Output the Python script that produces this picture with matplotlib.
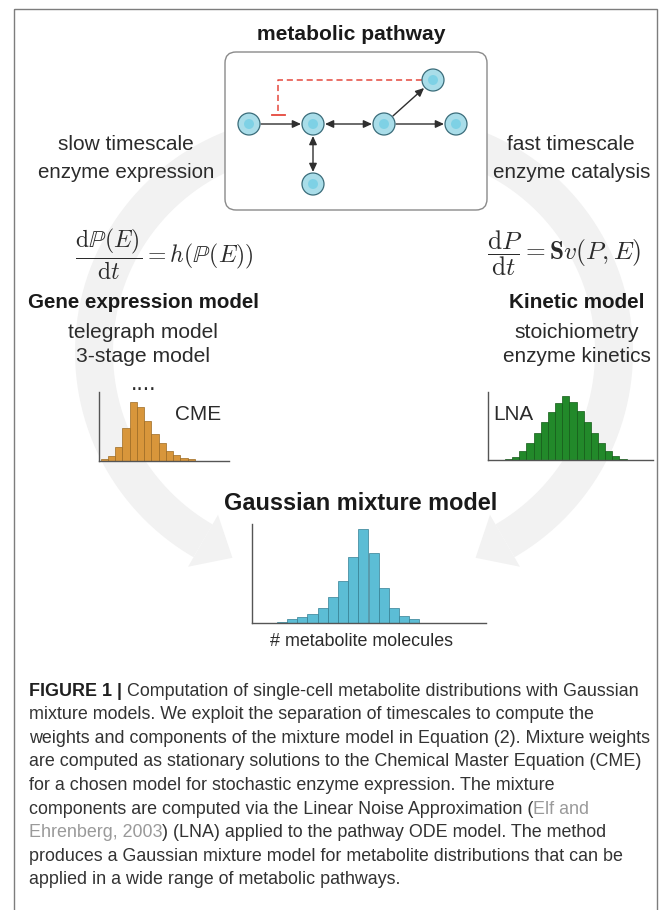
import numpy as np
import matplotlib
matplotlib.use('Agg')
import matplotlib.pyplot as plt
from matplotlib.patches import Circle, FancyBboxPatch, FancyArrowPatch, Polygon, Rectangle

W, H = 669, 910
plt.rcParams['font.family'] = ['Liberation Sans', 'DejaVu Sans']
plt.rcParams['mathtext.fontset'] = 'cm'

# histogram bar heights (arbitrary units)
cme_counts = [5, 14, 42, 97, 175, 162, 119, 79, 52, 30, 17, 9, 5]
lna_counts = [3, 10, 26, 50, 80, 113, 145, 172, 193, 173, 146, 114, 82, 52, 28, 12, 4]
gmm_counts = [2, 12, 18, 26, 43, 76, 125, 198, 280, 210, 103, 43, 20, 10]

# pathway graph
node_names = ['A', 'B', 'C', 'D', 'E', 'F']
node_x = [249, 313, 384, 456, 433, 313]
node_y = [124, 124, 124, 124, 80, 184]
edges = [('A', 'B', '-|>'), ('B', 'C', '<|-|>'), ('C', 'D', '-|>'),
         ('C', 'E', '-|>'), ('B', 'F', '<|-|>')]
NODE_R = 11

caption = [
    [('FIGURE 1 |', 'b'), (' Computation of single-cell metabolite distributions with Gaussian', 'n')],
    [('mixture models. We exploit the separation of timescales to compute the', 'n')],
    [('weights and components of the mixture model in Equation (2). Mixture weights', 'n')],
    [('are computed as stationary solutions to the Chemical Master Equation (CME)', 'n')],
    [('for a chosen model for stochastic enzyme expression. The mixture', 'n')],
    [('components are computed via the Linear Noise Approximation (', 'n'), ('Elf and', 'g')],
    [('Ehrenberg, 2003', 'g'), (') (LNA) applied to the pathway ODE model. The method', 'n')],
    [('produces a Gaussian mixture model for metabolite distributions that can be', 'n')],
    [('applied in a wide range of metabolic pathways.', 'n')],
]

fig = plt.figure(figsize=(W / 100, H / 100), dpi=100)
ax = fig.add_axes([0, 0, 1, 1])
ax.set_xlim(0, W)
ax.set_ylim(H, 0)
ax.axis('off')
renderer = fig.canvas.get_renderer()

TXT = '#2b2b2b'


def label(x, y, s, width, bold=False, color=TXT):
    t = ax.text(x, y, s, ha='center', va='center', fontsize=10, color=color,
                fontweight='bold' if bold else 'normal', zorder=5)
    w = t.get_window_extent(renderer).width
    t.set_fontsize(10 * width / w)
    return t


# faint circular arrows in the background
ring_col = '#f2f2f2'
ring_r, ring_cy, ring_w = 218, 352, 38
for cx, t0, t1, sgn in [(312, 100, 240, 1), (396, 80, -60, -1)]:
    th = np.radians(np.linspace(t0, t1, 200))
    xs = cx + ring_r * np.cos(th)
    ys = ring_cy - ring_r * np.sin(th)
    ax.plot(xs, ys, color=ring_col, lw=ring_w * 0.72, solid_capstyle='butt', zorder=0)
    d = sgn * np.array([-np.sin(th[-1]), -np.cos(th[-1])])
    n = np.array([-d[1], d[0]])
    e = np.array([xs[-1], ys[-1]])
    ax.add_patch(Polygon([e + n * 30, e - n * 30, e + d * 34], closed=True,
                         fc=ring_col, ec='none', zorder=0))

# outer frame
ax.add_patch(Rectangle((14, 9), 643, 910, fill=False, ec='#7d7d7d', lw=1, zorder=1))

# pathway box
ax.add_patch(FancyBboxPatch((225, 52), 262, 158, boxstyle='round,pad=0,rounding_size=11',
                            fc='white', ec='#8a8a8a', lw=1, zorder=2))
label(351.5, 35, 'metabolic pathway', 187, bold=True, color='#1a1a1a')

pos = {k: np.array([x, y], float) for k, x, y in zip(node_names, node_x, node_y)}
for a, b, style in edges:
    v = pos[b] - pos[a]
    u = v / np.linalg.norm(v)
    p0 = pos[a] + u * (NODE_R + 1)
    p1 = pos[b] - u * (NODE_R + 1)
    ax.add_patch(FancyArrowPatch(tuple(p0), tuple(p1),
                                 arrowstyle=style + ',head_length=5,head_width=2.3',
                                 mutation_scale=1, shrinkA=0, shrinkB=0,
                                 color='#2f2f2f', lw=1.0, zorder=3))
for k in node_names:
    ax.add_patch(Circle(pos[k], NODE_R, fc='#a9dde9', ec='#3a6c7a', lw=0.9, zorder=4))
    ax.add_patch(Circle(pos[k], 5, fc='#74cfe4', ec='none', alpha=0.8, zorder=4))

# feedback inhibition (red dashed)
ax.plot([422, 278, 278], [80, 80, 114], color='#e5483d', lw=1.1, ls=(0, (4, 2.5)), zorder=3)
ax.plot([272, 285], [114.5, 114.5], color='#e5483d', lw=1.3, zorder=3)

# side labels
label(126, 144, 'slow timescale', 136)
label(126, 173, 'enzyme expression', 177.5)
label(571, 144, 'fast timescale', 128)
label(571.5, 173, 'enzyme catalysis', 158)

label(164, 254, r'$\dfrac{\mathrm{d}\mathbb{P}(E)}{\mathrm{d}t} = h(\mathbb{P}(E))$', 180)
label(564.5, 253, r'$\dfrac{\mathrm{d}P}{\mathrm{d}t} = \mathbf{S}v(P,E)$', 156)

label(143, 302, 'Gene expression model', 232, bold=True, color='#1a1a1a')
label(143, 332, 'telegraph model', 150)
label(142.5, 357, '3-stage model', 134)
label(576.5, 302, 'Kinetic model', 135, bold=True, color='#1a1a1a')
label(576.5, 332, 'stoichiometry', 125)
label(576.5, 357, 'enzyme kinetics', 148)
label(143.5, 384, '....', 25)
label(198.5, 415, 'CME', 46)
label(513, 415, 'LNA', 40)
label(360.5, 503, 'Gaussian mixture model', 273, bold=True, color='#1a1a1a')
label(361.5, 642, '# metabolite molecules', 183)


def hist_axes(box, counts, bar0, barw, ymax, fc, ec):
    l, t, r, b = box
    hax = fig.add_axes([l / W, 1 - b / H, (r - l) / W, (b - t) / H])
    hax.patch.set_alpha(0)
    hax.bar(np.arange(len(counts)), counts, width=1, align='edge',
            color=fc, edgecolor=ec, linewidth=0.5)
    hax.set_xlim(-(bar0 - l) / barw, (r - bar0) / barw)
    hax.set_ylim(0, ymax)
    for s in ['top', 'right']:
        hax.spines[s].set_visible(False)
    for s in ['left', 'bottom']:
        hax.spines[s].set_color('#555555')
        hax.spines[s].set_linewidth(1.0)
    hax.set_xticks([])
    hax.set_yticks([])
    return hax


hist_axes((99.3, 391.7, 229, 460.7), cme_counts, 100.7, 7.25, 207, '#d8963b', '#9c6a22')
hist_axes((487.5, 391.7, 653, 460), lna_counts, 505, 7.15, 205, '#22892a', '#135a17')
hist_axes((252.3, 524, 486, 622.7), gmm_counts, 276.7, 10.2, 296, '#5cbdd5', '#347f93')

# caption
probe = ax.text(0, 0, caption[2][0][0], fontsize=10)
cap_size = 10 * 624 / probe.get_window_extent(renderer).width
probe.remove()
styles = {'n': dict(color='#333333'),
          'b': dict(color='#1f1f1f', fontweight='bold'),
          'g': dict(color='#9a9a9a')}
for i, line in enumerate(caption):
    x = 29
    y = 691 + 23.6 * i
    for s, st in line:
        t = ax.text(x, y, s, fontsize=cap_size, ha='left', va='center', **styles[st])
        x = t.get_window_extent(renderer).x1

fig.savefig('out.png', dpi=100)
